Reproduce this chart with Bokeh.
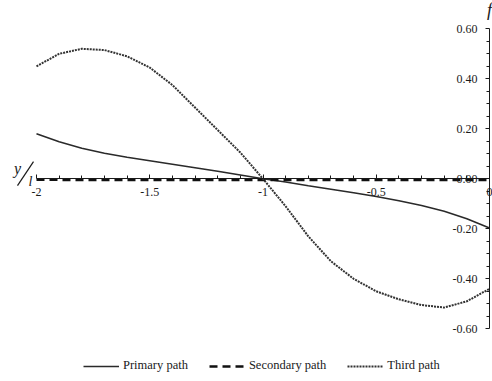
from bokeh.plotting import figure
from bokeh.models import Range1d, FixedTicker, NumeralTickFormatter, Label, Legend, LegendItem, Arrow
from bokeh.embed import file_html
from bokeh.resources import INLINE

# Position along the span (x) and the three path values
x_vals = [-2.0, -1.9, -1.8, -1.7, -1.6, -1.5, -1.4, -1.3, -1.2, -1.1, -1.0,
          -0.9, -0.8, -0.7, -0.6, -0.5, -0.4, -0.3, -0.2, -0.1, 0.0]
primary = [0.180, 0.148, 0.122, 0.102, 0.086, 0.072, 0.058, 0.044, 0.030, 0.015, 0.000,
           -0.013, -0.028, -0.042, -0.056, -0.071, -0.088, -0.107, -0.130, -0.160, -0.197]
secondary = [-0.004, -0.004, -0.005, -0.005, -0.005, -0.005, -0.005, -0.005, -0.005, -0.005, -0.005,
             -0.005, -0.005, -0.005, -0.005, -0.005, -0.005, -0.005, -0.005, -0.005, -0.005]
third = [0.450, 0.500, 0.520, 0.515, 0.490, 0.445, 0.375, 0.285, 0.195, 0.105, 0.000,
         -0.110, -0.230, -0.330, -0.400, -0.450, -0.482, -0.505, -0.515, -0.490, -0.440]

series_names = ["Primary path", "Secondary path", "Third path"]

x_major = [-2, -1.5, -1, -0.5, 0]
x_minor = [-1.9, -1.8, -1.7, -1.6, -1.4, -1.3, -1.2, -1.1, -0.9, -0.8, -0.7, -0.6,
           -0.4, -0.3, -0.2, -0.1]
y_major = [-0.6, -0.4, -0.2, 0.0, 0.2, 0.4, 0.6]
y_minor = [-0.55, -0.5, -0.45, -0.35, -0.3, -0.25, -0.15, -0.1, -0.05,
           0.05, 0.1, 0.15, 0.25, 0.3, 0.35, 0.45, 0.5, 0.55]

FONT = "Liberation Serif"
INK = "#1a1a1a"

# The axes are pinned to x = 0 and f = 0, so the frame covers the whole canvas
p = figure(frame_width=492, frame_height=381, output_backend="svg", toolbar_location=None,
           x_range=Range1d(-2.1589, 0.0132), y_range=Range1d(-0.8108, 0.7132),
           min_border_left=0, min_border_right=0, min_border_top=0, min_border_bottom=0)
p.outline_line_color = None
p.grid.visible = False
p.background_fill_color = "white"
p.border_fill_color = "white"

# Horizontal axis sits on f = 0, ticks pointing up
xa = p.xaxis[0]
xa.fixed_location = 0
xa.bounds = (-2, 0)
xa.ticker = FixedTicker(ticks=x_major, minor_ticks=x_minor)
xa.formatter = NumeralTickFormatter(format="0.[0]")
xa.major_tick_in = 4
xa.major_tick_out = 0
xa.minor_tick_in = 3
xa.minor_tick_out = 0
xa.major_label_standoff = 9
xa.axis_line_color = INK
xa.major_tick_line_color = INK
xa.minor_tick_line_color = INK
xa.major_label_text_font = FONT
xa.major_label_text_font_size = "12px"
xa.major_label_text_color = INK

# Vertical axis sits on x = 0, labels to its left
ya = p.yaxis[0]
ya.fixed_location = 0
ya.bounds = (-0.6, 0.6)
ya.ticker = FixedTicker(ticks=y_major, minor_ticks=y_minor)
ya.formatter = NumeralTickFormatter(format="0.00")
ya.major_tick_in = 0
ya.major_tick_out = 4
ya.minor_tick_in = 0
ya.minor_tick_out = 3
ya.major_label_standoff = 8
ya.axis_line_color = INK
ya.major_tick_line_color = INK
ya.minor_tick_line_color = INK
ya.major_label_text_font = FONT
ya.major_label_text_font_size = "12px"
ya.major_label_text_color = INK

r1 = p.line(x_vals, primary, line_color="#2a2a2a", line_width=1.6)
r2 = p.line(x_vals, secondary, line_color="#111111", line_width=2.6, line_dash="8 5")
r3 = p.line(x_vals, third, line_color="#333333", line_width=2.0, line_dash="2 1")

legend = Legend(items=[LegendItem(label=series_names[0], renderers=[r1]),
                       LegendItem(label=series_names[1], renderers=[r2]),
                       LegendItem(label=series_names[2], renderers=[r3])],
                orientation="horizontal", location=(83, 8),
                border_line_color=None, background_fill_alpha=0,
                label_text_font=FONT, label_text_font_size="12.5px", label_text_color=INK,
                glyph_width=36, glyph_height=14, label_height=14, label_standoff=4,
                spacing=21, padding=0, margin=0)
p.add_layout(legend)

# Axis titles: italic f over the vertical axis, y/l beside the horizontal one
p.add_layout(Label(x=0, y=0.677, text="f", text_font=FONT, text_font_style="italic",
                   text_font_size="18px", text_align="center", text_baseline="middle",
                   text_color=INK))
p.add_layout(Label(x=-2.0839, y=0.041, text="y", text_font=FONT, text_font_style="italic",
                   text_font_size="16px", text_align="center", text_baseline="middle",
                   text_color=INK))
p.add_layout(Label(x=-2.0265, y=-0.011, text="l", text_font=FONT, text_font_style="italic",
                   text_font_size="14px", text_align="center", text_baseline="middle",
                   text_color=INK))
p.add_layout(Arrow(x_start=-2.0839, y_start=-0.027, x_end=-2.0132, y_end=0.069,
                   start=None, end=None, line_color=INK, line_width=1.2))

open("out.html", "w").write(file_html(p, INLINE))
